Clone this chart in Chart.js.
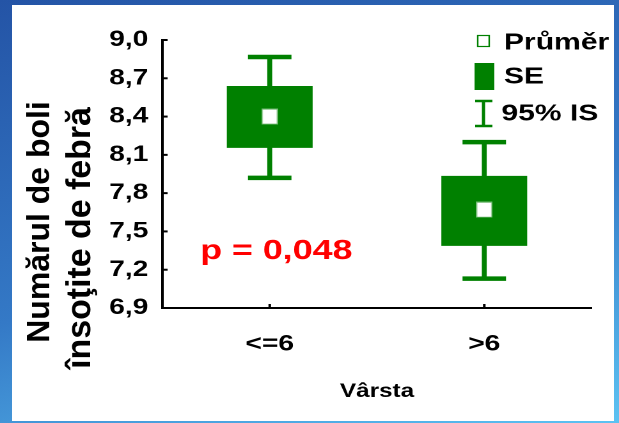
<!DOCTYPE html>
<html>
<head>
<meta charset="utf-8">
<script src="https://cdn.jsdelivr.net/npm/chart.js@4/dist/chart.umd.min.js"></script>
<style>
  html, body { margin: 0; padding: 0; }
  body {
    width: 619px; height: 423px; overflow: hidden; position: relative;
    background: linear-gradient(165deg, #2454a6 0%, #3479c6 55%, #5cc2f2 100%);
  }
  #panel { position: absolute; left: 12px; top: 5px; width: 602px; height: 416px; background: #fff; }
  #wrap { position: absolute; left: 0; top: 0; width: 484px; height: 423px;
          transform: scaleX(1.279); transform-origin: 0 0; }
</style>
</head>
<body>
<div id="panel"></div>
<div id="wrap"><canvas id="grafico" width="484" height="423"></canvas></div>
<script>
// categorii (vârsta)
const categorii = ['<=6', '>6'];
// media
const medii = [8.40, 7.67];
// SE (limite)
const seJos = [8.155, 7.387];
const seSus = [8.64, 7.935];
// 95% IS
const isJos = [7.92, 7.13];
const isSus = [8.867, 8.20];
// axa Y
const yMin = 6.9, yMax = 9.0, yPas = 0.3;

const verde = '#008000';
const fontFam = '"Liberation Sans", Arial, sans-serif';
const intindere = 1.279; // pagina e intinsa pe orizontala

// marker pentru medie (patrat alb)
const marker = document.createElement('canvas');
marker.width = 13; marker.height = 16;
(function () {
    const c = marker.getContext('2d');
    c.fillStyle = '#6fb86f';
    c.fillRect(0, 0, 13, 16);
    c.fillStyle = '#ffffff';
    c.fillRect(1, 1, 11, 14);
})();

function textVertical(ctx, text, x, y, size) {
    ctx.save();
    ctx.translate(x, y);
    ctx.rotate(-Math.PI / 2);
    ctx.scale(intindere, 1);
    ctx.font = 'bold ' + size + 'px ' + fontFam;
    ctx.fillText(text, 0, 0);
    ctx.restore();
}

// titlu Y, legenda, p-value, liniute interioare
const textePlugin = {
    id: 'texte',
    afterDraw(chart) {
        const ctx = chart.ctx;
        const x = chart.scales.x, y = chart.scales.y;
        ctx.save();
        // liniute spre interior
        ctx.strokeStyle = '#000';
        ctx.lineWidth = 2;
        y.ticks.forEach(t => {
            const py = y.getPixelForValue(t.value);
            ctx.beginPath(); ctx.moveTo(x.left, py); ctx.lineTo(x.left + 4, py); ctx.stroke();
        });
        categorii.forEach((c, i) => {
            const px = x.getPixelForValue(i);
            ctx.beginPath(); ctx.moveTo(px, y.bottom); ctx.lineTo(px, y.bottom - 4); ctx.stroke();
        });

        // titlu axa Y
        ctx.fillStyle = '#000';
        ctx.textAlign = 'center';
        ctx.textBaseline = 'middle';
        textVertical(ctx, 'Numărul de boli', 31.5, 222, 25);
        textVertical(ctx, 'însoţite de febră', 63, 238, 26.5);

        // p
        ctx.fillStyle = '#ff0000';
        ctx.textBaseline = 'alphabetic';
        ctx.font = 'bold 28px ' + fontFam;
        ctx.fillText('p = 0,048', 216, 259);

        // legenda
        ctx.strokeStyle = verde;
        ctx.lineWidth = 1.2;
        ctx.fillStyle = '#fff';
        ctx.fillRect(373, 35, 10, 12);
        ctx.strokeRect(373.5, 35.5, 9, 11);
        ctx.fillStyle = verde;
        ctx.fillRect(371, 63, 15.5, 27);
        ctx.lineWidth = 2.5;
        ctx.beginPath();
        ctx.moveTo(378, 101); ctx.lineTo(378, 126);
        ctx.moveTo(371.5, 101); ctx.lineTo(385, 101);
        ctx.moveTo(371.5, 126); ctx.lineTo(385, 126);
        ctx.stroke();

        ctx.fillStyle = '#000';
        ctx.textAlign = 'left';
        ctx.textBaseline = 'middle';
        ctx.font = 'bold 23.5px ' + fontFam;
        ctx.fillText('Průměr', 394, 43);
        ctx.fillText('SE', 394, 77);
        ctx.fillText('95% IS', 392, 114);
        ctx.restore();
    }
};

const config = {
    data: {
        labels: categorii,
        datasets: [
            { // medie
                type: 'line', data: medii, showLine: false, order: 1,
                pointStyle: marker, pointRadius: 8
            },
            { // SE
                type: 'bar', data: seJos.map((v, i) => [v, seSus[i]]), order: 3,
                backgroundColor: verde, borderWidth: 0, grouped: false,
                barPercentage: 0.4, categoryPercentage: 1
            },
            { // capete IS sus
                type: 'line', data: isSus, showLine: false, order: 4,
                pointStyle: 'line', pointRadius: 17, pointBorderWidth: 4.5, borderColor: verde
            },
            { // capete IS jos
                type: 'line', data: isJos, showLine: false, order: 4,
                pointStyle: 'line', pointRadius: 17, pointBorderWidth: 4.5, borderColor: verde
            },
            { // linia IS
                type: 'bar', data: isJos.map((v, i) => [v, isSus[i]]), order: 5,
                backgroundColor: verde, borderWidth: 0, grouped: false, barThickness: 3.2
            }
        ]
    },
    options: {
        responsive: false,
        animation: false,
        devicePixelRatio: 2,
        layout: { padding: { top: 40, right: 15, left: 0, bottom: 0 } },
        plugins: { legend: { display: false }, tooltip: { enabled: false } },
        scales: {
            x: {
                grid: { display: false, drawTicks: false },
                border: { color: '#000', width: 2 },
                ticks: { color: '#000', padding: 23, font: { family: fontFam, size: 22, weight: 'bold' } },
                title: { display: true, text: 'Vârsta', color: '#000', padding: { bottom: 20 },
                         font: { family: fontFam, size: 19, weight: 'bold' } },
                afterFit(s) { s.height = 115; }
            },
            y: {
                min: yMin, max: yMax,
                grid: { display: false, drawTicks: false },
                border: { color: '#000', width: 2 },
                ticks: {
                    stepSize: yPas, color: '#000', padding: 11,
                    font: { family: fontFam, size: 22, weight: 'bold' },
                    callback: v => v.toFixed(1).replace('.', ',')
                },
                afterFit(s) { s.width = 127; }
            }
        }
    },
    plugins: [textePlugin]
};

window.onload = function () {
    const ctx = document.getElementById('grafico').getContext('2d');
    new Chart(ctx, config);
};
</script>
</body>
</html>
